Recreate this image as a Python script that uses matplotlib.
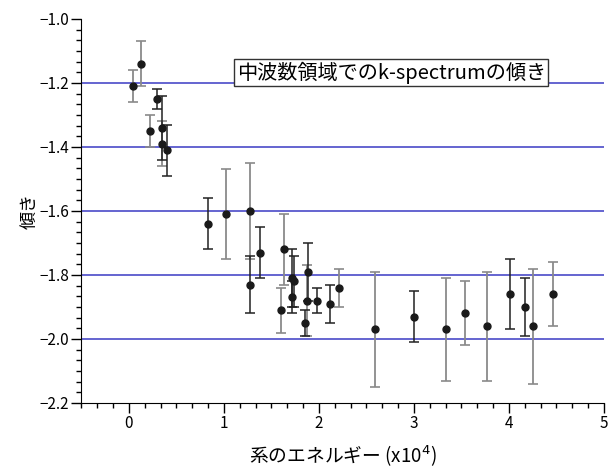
import matplotlib
matplotlib.use('Agg')
from matplotlib import pyplot as plt
from matplotlib.ticker import MultipleLocator

import numpy as np

plt.rcParams['font.family'] = ['Noto Sans CJK JP', 'DejaVu Sans']

# 系列1 (黒い誤差棒)
energy_a = [0.30, 0.35, 0.40, 0.835, 1.27, 1.38, 1.72, 1.74, 1.72, 1.85, 1.88, 1.98, 2.12, 3.00, 4.01, 4.17]
slope_a = [-1.25, -1.34, -1.41, -1.64, -1.83, -1.73, -1.81, -1.82, -1.87, -1.95, -1.79, -1.88, -1.89, -1.93, -1.86, -1.90]
err_a = [0.03, 0.10, 0.08, 0.08, 0.09, 0.08, 0.09, 0.08, 0.05, 0.04, 0.09, 0.04, 0.06, 0.08, 0.11, 0.09]

# 系列2 (灰色の誤差棒)
energy_b = [0.04, 0.13, 0.22, 0.35, 1.02, 1.27, 1.63, 1.60, 1.87, 2.21, 2.59, 3.34, 3.54, 3.77, 4.25, 4.46]
slope_b = [-1.21, -1.14, -1.35, -1.39, -1.61, -1.60, -1.72, -1.91, -1.88, -1.84, -1.97, -1.97, -1.92, -1.96, -1.96, -1.86]
err_b = [0.05, 0.07, 0.05, 0.07, 0.14, 0.15, 0.11, 0.07, 0.11, 0.06, 0.18, 0.16, 0.10, 0.17, 0.18, 0.10]

ref_lines = [-1.2, -1.4, -1.6, -1.8, -2.0]

fig = plt.figure(figsize=(6.08, 4.70), dpi=100)
ax = fig.add_axes([0.134, 0.1426, 0.8594, 0.817])

for y in ref_lines:
    ax.axhline(y, color='#3a3ac4', lw=1.1, zorder=1)

ax.errorbar(energy_b, slope_b, yerr=err_b, fmt='none', ecolor='#8a8a8a',
            elinewidth=1.3, capsize=3.5, capthick=1.2, zorder=2)
ax.errorbar(energy_a, slope_a, yerr=err_a, fmt='none', ecolor='#222222',
            elinewidth=1.1, capsize=3.5, capthick=1.1, zorder=3)
ax.plot(energy_b, slope_b, 'o', color='#1a1a1a', ms=5, zorder=4)
ax.plot(energy_a, slope_a, 'o', color='#1a1a1a', ms=5, zorder=4)

ax.set_xlim(-0.5, 5)
ax.set_ylim(-2.2, -1.0)
ax.xaxis.set_major_locator(MultipleLocator(1))
ax.xaxis.set_minor_locator(MultipleLocator(1 / 6))
ax.yaxis.set_major_locator(MultipleLocator(0.2))
ax.yaxis.set_minor_locator(MultipleLocator(0.2 / 6))
ax.yaxis.set_major_formatter(lambda v, p: f'{v:.1f}'.replace('-', '\u2212'))

for s in ['top', 'right']:
    ax.spines[s].set_visible(False)
ax.tick_params(which='major', length=7, width=1, labelsize=11, pad=2)
ax.tick_params(which='minor', length=3.5, width=1)

ax.set_xlabel('系のエネルギー (x10$^4$)', fontsize=13.5, labelpad=8)
ax.set_ylabel('傾き', fontsize=13, labelpad=0)

ax.text(0.297, 0.86, '中波数領域でのk-spectrumの傾き', transform=ax.transAxes,
        fontsize=14.5, va='center', ha='left', zorder=5,
        bbox=dict(boxstyle='square,pad=0.12', fc='white', ec='#333333', lw=1))

fig.savefig('out.png', dpi=100)
